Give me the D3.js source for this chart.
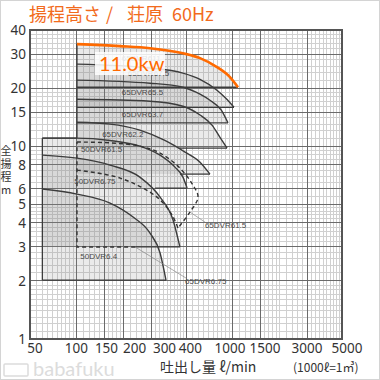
<!DOCTYPE html>
<html><head><meta charset="utf-8">
<script src="https://cdn.jsdelivr.net/npm/d3@7"></script>
<style>body{margin:0;background:#fff}svg{display:block}</style>
</head><body><svg id="c" width="380" height="380"></svg>
<script>
// ---------- data ----------
const xTickLabels = ["50","100","150","200","300","400","1000","1500","3000","5000"];
// flow values at which each printed label is centred (labels are spread evenly in the reference)
const xLabelAt = [53.8,99,154.6,234,364,534,957,1604,2984,5384];
const yTicks = [1,2,3,4,5,6,8,10,15,20,30,40];
const yTickLabels = ["1","2","3","4","5","6","8","10","15","20","30","40"];
const xMajor = [100,150,200,300,500,1000,1500,3000];
const yMajor = [2,3,4,5,6,8,10,15,20,30];

const modelNames = ["65DVR611","65DVR67.5","65DVR65.5","65DVR63.7","65DVR62.2","50DVR61.5","50DVR6.75","50DVR6.4"];
const q611  = [100,189,294,478,615,790,957,1077];
const h611  = [33.8,33.0,32.2,30.3,28.6,25.7,22.8,20.2];
const q675  = [100,294,478,615,790,900,1015];
const h675  = [26.6,25.4,23.9,22.2,19.5,17.7,15.9];
const q655  = [100,294,478,615,712,840,929];
const h655  = [22.0,21.2,20.2,18.6,17.3,15.4,13.2];
const q637  = [100,294,478,615,734,826,916];
const h637  = [17.5,17.1,16.1,14.5,12.85,11.1,9.76];
const q622  = [100,163,253,366,493,615,712];
const h622  = [13.3,13.0,12.1,10.7,9.31,8.26,7.16];
const q50_15 = [60,100,163,253,341,425,478,508];
const h50_15 = [11.0,11.0,10.7,10.0,8.98,7.78,6.91,6.06];
const q50_075 = [60,100,163,253,341,413,457];
const h50_075 = [8.98,8.66,7.97,6.91,5.44,4.14,3.0];
const q50_04 = [60,100,163,229,294,341,372];
const h50_04 = [5.99,5.64,5.07,4.29,3.54,2.79,2.02];
const modelQ = [q611,q675,q655,q637,q622,q50_15,q50_075,q50_04];
const modelH = [h611,h675,h655,h637,h622,h50_15,h50_075,h50_04];
const bottomFromQ = [100,100,100,449,457,317,236,60];
const labelQ = [194,212,194,194,145,106,96,105];
const labelH = [27.6,23.0,18.4,14.1,11.1,9.31,6.36,2.60];

// dashed 65DVR61.5 / 65DVR6.75
const dashedNames = ["65DVR61.5","65DVR6.75"];
const qD15 = [100,163,253,341,457,554,597,530,444];
const hD15 = [10.5,10.4,10.0,9.2,7.69,6.28,5.44,4.55,3.76];
const qD075 = [100,189,326,407,444];
const hD075 = [7.51,6.83,5.44,4.39,3.76];
const dashedFrameQ = [236,100,100];
const dashedFrameH = [3.0,3.0,10.5];
const leaderFromQ = [530,236], leaderFromH = [4.55,3.0];
const leaderToQ = [661,500], leaderToH = [4.04,2.07];
const dashedLabelQ = [661,493], dashedLabelH = [3.76,1.93];

// ---------- drawing ----------
const svg = d3.select("#c");
const x = d3.scaleLog().domain([50,5000]).range([30,342]);
const y = d3.scaleLog().domain([1,40]).range([339,30]);

svg.append("rect").attr("width",380).attr("height",380).attr("fill","#fff");
svg.append("rect").attr("x",0.5).attr("y",0.5).attr("width",379).attr("height",379)
  .attr("fill","none").attr("stroke","#d4d4d4");

function minorVals(bases, lo, hi){
  const out=[];
  for(const b of bases){
    for(let m=10;m<20;m+=1) out.push(b*m/10);
    for(let m=20;m<50;m+=2) out.push(b*m/10);
    for(let m=50;m<100;m+=5) out.push(b*m/10);
  }
  return out.filter(v=>v>lo*1.0001 && v<hi*0.9999);
}
const gGrid = svg.append("g").attr("shape-rendering","crispEdges");
gGrid.selectAll("line.vx").data(minorVals([10,100,1000],50,5000)).join("line")
  .attr("x1",d=>x(d)).attr("x2",d=>x(d)).attr("y1",y(40)).attr("y2",y(1))
  .attr("stroke","#d0d0d0").attr("stroke-width",1);
gGrid.selectAll("line.hy").data(minorVals([1,10],1,40)).join("line")
  .attr("y1",d=>y(d)).attr("y2",d=>y(d)).attr("x1",x(50)).attr("x2",x(5000))
  .attr("stroke","#d0d0d0").attr("stroke-width",1);
const gMaj = svg.append("g").attr("shape-rendering","crispEdges");
gMaj.selectAll("line.mx").data(xMajor).join("line")
  .attr("x1",d=>x(d)).attr("x2",d=>x(d)).attr("y1",y(40)).attr("y2",y(1))
  .attr("stroke","#6a6a6a").attr("stroke-width",1);
gMaj.selectAll("line.my").data(yMajor).join("line")
  .attr("y1",d=>y(d)).attr("y2",d=>y(d)).attr("x1",x(50)).attr("x2",x(5000))
  .attr("stroke","#6a6a6a").attr("stroke-width",1);

// regions
const gReg = svg.append("g");
const area = d3.area().curve(d3.curveMonotoneX);
const line = d3.line().curve(d3.curveMonotoneX);
for(let i=modelNames.length-1;i>=0;i--){
  const pts = modelQ[i].map((q,k)=>[x(q),y(modelH[i][k])]);
  const hEnd = modelH[i][modelH[i].length-1];
  gReg.append("path")
    .attr("d", area.x(d=>d[0]).y1(d=>d[1]).y0(y(hEnd))(pts))
    .attr("fill","#808080").attr("fill-opacity",0.17);
}
const gStroke = svg.append("g").attr("fill","none");
for(let i=modelNames.length-1;i>=0;i--){
  const pts = modelQ[i].map((q,k)=>[x(q),y(modelH[i][k])]);
  const hEnd = modelH[i][modelH[i].length-1];
  const qEnd = modelQ[i][modelQ[i].length-1];
  gStroke.append("line").attr("x1",x(bottomFromQ[i])).attr("x2",x(qEnd))
    .attr("y1",y(hEnd)).attr("y2",y(hEnd)).attr("stroke","#3c3c3c").attr("stroke-width",1.3);
  if(i>0) gStroke.append("path").attr("d",line.x(d=>d[0]).y(d=>d[1])(pts))
    .attr("stroke","#3c3c3c").attr("stroke-width",1.4);
}
gStroke.append("line").attr("x1",x(100)).attr("x2",x(100)).attr("y1",y(h611[0])).attr("y2",y(h50_15[0]))
  .attr("stroke","#3c3c3c").attr("stroke-width",1.3);
gStroke.append("line").attr("x1",x(q50_15[0])).attr("x2",x(q50_15[0])).attr("y1",y(h50_15[0])).attr("y2",y(h50_04[h50_04.length-1]))
  .attr("stroke","#3c3c3c").attr("stroke-width",1.3);
gStroke.append("line").attr("x1",x(q50_15[0])).attr("x2",x(100)).attr("y1",y(h50_15[0])).attr("y2",y(h50_15[0]))
  .attr("stroke","#3c3c3c").attr("stroke-width",1.3);

// dashed
const cr = d3.line().curve(d3.curveCatmullRom).x(d=>d[0]).y(d=>d[1]);
const gDash = svg.append("g").attr("fill","none").attr("stroke","#333").attr("stroke-width",1.4).attr("stroke-dasharray","4,3");
gDash.append("path").attr("d",cr(qD15.map((q,k)=>[x(q),y(hD15[k])])));
gDash.append("path").attr("d",cr(qD075.map((q,k)=>[x(q),y(hD075[k])])));
gDash.append("path").attr("d",d3.line()(dashedFrameQ.map((q,k)=>[x(q),y(dashedFrameH[k])])));
leaderFromQ.forEach((q,k)=>{
  svg.append("line").attr("x1",x(q)).attr("y1",y(leaderFromH[k])).attr("x2",x(leaderToQ[k])).attr("y2",y(leaderToH[k]))
    .attr("stroke","#8a8a8a").attr("stroke-width",0.7);
});

// orange top curve
svg.append("path").attr("fill","none").attr("stroke","#ff6a00").attr("stroke-width",2.6)
  .attr("d",line.x(d=>d[0]).y(d=>d[1])(q611.map((q,k)=>[x(q),y(h611[k])])));

// model labels
const lblStyle = s=>s.attr("font-family","Liberation Sans, Arial, sans-serif").attr("font-size",8).attr("fill","#4a4a4a");
modelNames.forEach((n,i)=>{
  svg.append("text").attr("x",x(labelQ[i])).attr("y",y(labelH[i])).text(n).call(lblStyle);
});
dashedNames.forEach((n,i)=>{
  svg.append("text").attr("x",x(dashedLabelQ[i])).attr("y",y(dashedLabelH[i])).text(n).call(lblStyle);
});

// 11.0kw box
svg.append("rect").attr("x",x(q611[0])+18).attr("y",52).attr("width",70).attr("height",23)
  .attr("fill","#fff").attr("fill-opacity",0.85);
svg.append("text").attr("x",x(q611[0])+22).attr("y",71).text("11.0kw")
  .attr("font-family","Lato, Liberation Sans, sans-serif").attr("font-size",20).attr("fill","#ff6a00");

// plot border
svg.append("rect").attr("x",x(50)).attr("y",y(40)).attr("width",x(5000)-x(50)).attr("height",y(1)-y(40))
  .attr("fill","none").attr("stroke","#555").attr("stroke-width",1.2).attr("shape-rendering","crispEdges");

// tick labels
const tickFont = "Noto Sans, Liberation Sans, sans-serif";
svg.selectAll("text.yt").data(yTicks).join("text").attr("class","yt")
  .attr("x",26).attr("y",d=>y(d)+5).attr("text-anchor","end")
  .attr("font-family",tickFont).attr("font-size",13.5).attr("fill","#333")
  .text((d,i)=>yTickLabels[i]);
svg.selectAll("text.xt").data(xLabelAt).join("text").attr("class","xt")
  .attr("x",d=>x(d)).attr("y",353).attr("text-anchor","middle")
  .attr("font-family",tickFont).attr("font-size",13.5).attr("fill","#333")
  .text((d,i)=>xTickLabels[i]);

// axis titles
const yTitle = ["全","揚","程","m"];
const yTitleY = [155,168,181,194];
yTitle.forEach((c,i)=>{
  svg.append("text").attr("x",6).attr("y",yTitleY[i]).attr("text-anchor","middle")
    .attr("font-family","Noto Sans CJK JP, sans-serif").attr("font-size",11).attr("fill","#333").text(c);
});
svg.append("text").attr("x",160).attr("y",372).text("吐出し量 ℓ/min")
  .attr("font-family","Noto Sans CJK JP, sans-serif").attr("font-size",14).attr("fill","#333");
svg.append("text").attr("x",293).attr("y",372).text("(1000ℓ=1㎥)")
  .attr("font-family","Noto Sans CJK JP, sans-serif").attr("font-size",12).attr("fill","#333");

// title (pieces to match spacing)
const titleParts = ["揚程高さ","/","荘原","60Hz"];
const titleX = [29,106,127,172];
titleParts.forEach((t,i)=>{
  svg.append("text").attr("x",titleX[i]).attr("y",21).text(t)
    .attr("font-family","Noto Sans CJK JP, sans-serif").attr("font-size",18).attr("fill","#f26b1d");
});

// watermark
svg.append("rect").attr("x",4).attr("y",364).attr("width",24).attr("height",12).attr("rx",1)
  .attr("fill","none").attr("stroke","#dcdcdc").attr("stroke-width",1.5);
svg.append("text").attr("x",33).attr("y",376).text("babafuku")
  .attr("font-family","Lato, sans-serif").attr("font-size",20).attr("fill","#dcdcdc");
</script></body></html>
